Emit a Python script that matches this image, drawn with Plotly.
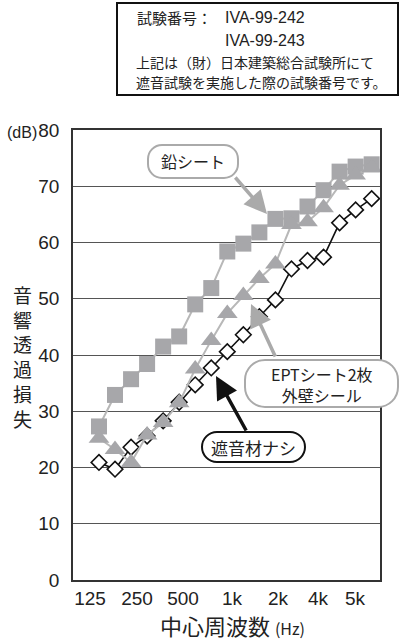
import plotly.graph_objects as go

# 1/3 octave bands, 100 Hz - 5 kHz
bands = ["100", "125", "160", "200", "250", "315", "400", "500", "630", "800",
         "1k", "1.25k", "1.6k", "2k", "2.5k", "3.15k", "4k", "5k"]
lead_sheet = [27.3, 32.9, 35.7, 38.4, 41.5, 43.3, 49.0, 51.9, 58.4, 59.8,
              61.8, 64.2, 64.3, 66.4, 69.3, 72.6, 73.5, 73.9]
ept_sheet = [25.2, 23.2, 20.9, 25.8, 28.0, 31.5, 37.5, 42.6, 47.4, 50.6,
             53.6, 56.2, 63.2, 63.7, 66.2, 70.2, 72.0, 73.3]
no_material = [20.9, 19.7, 23.6, 25.6, 28.3, 31.6, 34.7, 37.7, 40.6, 43.6,
               46.8, 49.8, 55.3, 56.8, 57.4, 63.5, 65.8, 67.8]

tick_text = ["125", "250", "500", "1k", "2k", "4k", "5k"]
tick_pos = [-0.56, 2.37, 5.24, 8.29, 11.16, 13.65, 15.96]

x_idx = list(range(len(bands)))

GRAY = "#a7a7aa"
LINE_GRAY = "#b8b8b8"
JP = "Noto Sans CJK JP"
NUM = "Liberation Sans Narrow, Liberation Sans, Arial"

# plot area in pixels
L, R, T, B = 73, 380, 130, 580


def px(x):
    return (x - L) / (R - L)


def py(y):
    return (B - y) / (B - T)


def capsule(x0, y0, x1, y1, r):
    k = 0.5523 * r
    pts = [
        ("M", [(x0 + r, y0)]),
        ("L", [(x1 - r, y0)]),
        ("C", [(x1 - r + k, y0), (x1, y0 + r - k), (x1, y0 + r)]),
        ("L", [(x1, y1 - r)]),
        ("C", [(x1, y1 - r + k), (x1 - r + k, y1), (x1 - r, y1)]),
        ("L", [(x0 + r, y1)]),
        ("C", [(x0 + r - k, y1), (x0, y1 - r + k), (x0, y1 - r)]),
        ("L", [(x0, y0 + r)]),
        ("C", [(x0, y0 + r - k), (x0 + r - k, y0), (x0 + r, y0)]),
    ]
    s = ""
    for cmd, p in pts:
        s += cmd + " " + " ".join(f"{px(a):.5f},{py(b):.5f}" for a, b in p) + " "
    return s + "Z"


fig = go.Figure()

fig.add_trace(go.Scatter(
    x=x_idx, y=lead_sheet, mode="lines+markers", name="鉛シート",
    line=dict(color=LINE_GRAY, width=2),
    marker=dict(symbol="square", size=16, color=GRAY),
))

fig.add_trace(go.Scatter(
    x=x_idx, y=no_material, mode="lines+markers", name="遮音材ナシ",
    line=dict(color="#111111", width=1.6),
    marker=dict(symbol="diamond", size=12, color="white",
                line=dict(color="#111111", width=1.6)),
))

fig.add_trace(go.Scatter(
    x=x_idx, y=ept_sheet, mode="lines+markers", name="EPTシート2枚 外壁シール",
    line=dict(color=LINE_GRAY, width=2),
    marker=dict(symbol="triangle-up", size=18, color=GRAY),
))

shapes = [
    # info box at the top
    dict(type="rect", xref="paper", yref="paper",
         x0=px(117), x1=px(398), y0=py(3), y1=py(95),
         line=dict(color="#111111", width=2), fillcolor="white"),
    dict(type="path", xref="paper", yref="paper",
         path=capsule(148, 145, 238, 178, 14),
         line=dict(color="#aaaaaa", width=2), fillcolor="white"),
    dict(type="path", xref="paper", yref="paper",
         path=capsule(245, 360, 398, 407, 20),
         line=dict(color="#aaaaaa", width=2), fillcolor="white"),
    dict(type="path", xref="paper", yref="paper",
         path=capsule(202, 432, 305, 462, 15),
         line=dict(color="#111111", width=2), fillcolor="white"),
]

ann = []


def text(x, y, s, size, family=JP, xanchor="center", color="#222222"):
    ann.append(dict(x=px(x), y=py(y), xref="paper", yref="paper", text=s,
                    showarrow=False, xanchor=xanchor, yanchor="middle",
                    font=dict(family=family, size=size, color=color)))


def arrow(tip, tail, color):
    ann.append(dict(x=px(tip[0]), y=py(tip[1]), xref="paper", yref="paper",
                    ax=tail[0] - tip[0], ay=tail[1] - tip[1],
                    axref="pixel", ayref="pixel", text="", showarrow=True,
                    arrowhead=2, arrowsize=1.3, arrowwidth=3.5,
                    arrowcolor=color, font=dict(size=1)))


text(135, 18, "試験番号：", 15, xanchor="left")
text(223, 18, "IVA-99-242", 16, family="Liberation Sans, Arial", xanchor="left")
text(223, 40, "IVA-99-243", 16, family="Liberation Sans, Arial", xanchor="left")
text(134, 62, "上記は（財）日本建築総合試験所にて", 14, xanchor="left")
text(134, 82, "遮音試験を実施した際の試験番号です。", 14, xanchor="left")

text(193, 161, "鉛シート", 16)
text(322, 384, "EPTシート2枚<br>外壁シール", 16)
text(253, 447, "遮音材ナシ", 17)

arrow((267, 214), (234, 176), "#aaaaaa")
arrow((251, 304), (276, 358), "#aaaaaa")
arrow((216, 376), (247, 432), "#111111")

text(22, 132, "(dB)", 16, family=NUM)
text(22, 356, "<br>".join("音響透過損失"), 19)
text(232, 625, "中心周波数 <span style='font-size:16px'>(Hz)</span>", 22)

fig.update_layout(
    width=400, height=643,
    margin=dict(l=L, r=400 - R, t=T, b=643 - B),
    paper_bgcolor="white", plot_bgcolor="white",
    showlegend=False,
    shapes=shapes, annotations=ann,
    font=dict(family=NUM, size=19, color="#222222"),
)

fig.update_xaxes(
    range=[-1.62, 17.52], tickvals=tick_pos, ticktext=tick_text,
    showgrid=False, zeroline=False, showline=True, mirror=True,
    linecolor="#333333", linewidth=1.5, ticks="",
)

fig.update_yaxes(
    range=[0, 80], dtick=10, showgrid=True, gridcolor="#555555", gridwidth=1,
    zeroline=False, showline=True, mirror=True,
    linecolor="#333333", linewidth=1.5, ticks="", ticklabelstandoff=8,
)

# the page body has a default margin; drop it so the figure sits at (0, 0)
fig.write_html("out.html", config={"displayModeBar": False},
               post_script="document.body.style.margin='0';")
